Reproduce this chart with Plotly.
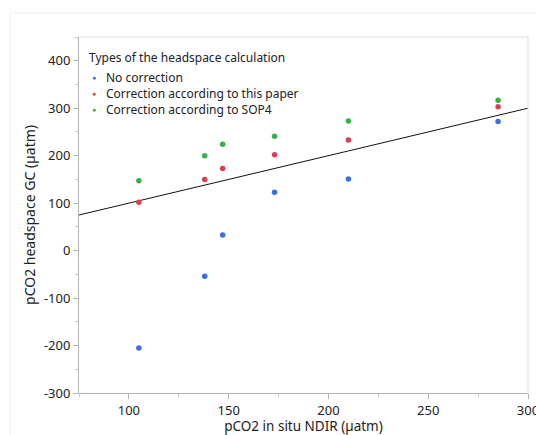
import plotly.graph_objects as go

# Data
x_ndir = [105, 138, 147, 173, 210, 285]
no_correction = [-205, -54, 33, 123, 151, 272]
corr_this_paper = [102, 150, 173, 202, 233, 303]
corr_sop4 = [147, 200, 224, 241, 273, 317]
series_names = ["No correction", "Correction according to this paper", "Correction according to SOP4"]
legend_title = "Types of the headspace calculation"
one_to_one = [75, 300]

x_ticks = [100, 150, 200, 250, 300]
x_ticktext = ["100", "150", "200", "250", "300"]
y_ticks = [-300, -200, -100, 0, 100, 200, 300, 400]
y_ticktext = ["-300", "-200", "-100", "0", "100", "200", "300", "400"]

colors = ["#3b6ee0", "#d8404e", "#38b04a"]
font_family = "Noto Sans, Open Sans, sans-serif"

W, H = 536, 435
ML, MT = 79, 37
MR = W - 528
MB = H - 393
PW, PH = W - ML - MR, H - MT - MB


def px_to_paper(px, py):
    """screen pixel -> paper coords"""
    return (px - ML) / PW, (H - MB - py) / PH


fig = go.Figure()
fig.add_trace(go.Scatter(x=one_to_one, y=one_to_one, mode="lines",
                         line=dict(color="#111111", width=1), showlegend=False,
                         hoverinfo="skip"))
for name, ys, c in zip(series_names, [no_correction, corr_this_paper, corr_sop4], colors):
    fig.add_trace(go.Scatter(x=x_ndir, y=ys, mode="markers", name=name,
                             marker=dict(color=c, size=5.5), showlegend=False))

axis_common = dict(showgrid=False, zeroline=False, showline=True, linecolor="#b5b5b5",
                   linewidth=1, ticks="outside", ticklen=5, tickcolor="#b5b5b5",
                   automargin=False, ticklabeloverflow="allow",
                   tickfont=dict(size=13, color="#222222", family=font_family),
                   minor=dict(ticks="outside", ticklen=3, tickcolor="#c8c8c8"))

fig.update_xaxes(range=[75, 300], tickvals=x_ticks, ticktext=x_ticktext,
                 title=dict(text="pCO2 in situ NDIR (µatm)", standoff=16,
                            font=dict(size=13.5, color="#222222", family=font_family)),
                 minor_dtick=25, **axis_common)
fig.update_yaxes(range=[-300, 450], tickvals=y_ticks, ticktext=y_ticktext,
                 title=dict(text="pCO2 headspace GC (µatm)", standoff=5,
                            font=dict(size=14, color="#222222", family=font_family)),
                 minor_dtick=50, **axis_common)

# light frame top/right of plot area
fig.add_shape(type="line", xref="paper", yref="paper", x0=0, x1=1, y0=1, y1=1,
              line=dict(color="#dcdcdc", width=1))
fig.add_shape(type="line", xref="paper", yref="paper", x0=1, x1=1, y0=0, y1=1,
              line=dict(color="#dcdcdc", width=1))
# faint outer border
bx0, by0 = px_to_paper(10, 13)
fig.add_shape(type="rect", xref="paper", yref="paper", x0=bx0, x1=1.1, y0=-0.3, y1=by0,
              line=dict(color="#efefef", width=1), layer="below")

# legend drawn as annotations (title, bullets, labels)
tx, ty = px_to_paper(87, 57)
fig.add_annotation(xref="paper", yref="paper", x=tx, y=ty, xanchor="left", yanchor="middle",
                   text=legend_title, showarrow=False,
                   font=dict(size=12, color="#222222", family=font_family))
for i, (name, c) in enumerate(zip(series_names, colors)):
    bx, by = px_to_paper(94, 77 + 16 * i)
    lx, ly = px_to_paper(104, 77 + 16 * i)
    fig.add_annotation(xref="paper", yref="paper", x=bx, y=by, xanchor="center", yanchor="middle",
                       text="●", showarrow=False, font=dict(size=7, color=c, family=font_family))
    fig.add_annotation(xref="paper", yref="paper", x=lx, y=ly, xanchor="left", yanchor="middle",
                       text=name, showarrow=False,
                       font=dict(size=12, color="#222222", family=font_family))

fig.update_layout(
    width=W, height=H,
    margin=dict(l=ML, r=MR, t=MT, b=MB, autoexpand=False),
    paper_bgcolor="white", plot_bgcolor="white",
    font=dict(family=font_family, color="#222222"),
    showlegend=False,
)

fig.write_html("out.html", config={"displayModeBar": False},
               post_script="document.body.style.margin='0';document.body.style.overflow='hidden';")
